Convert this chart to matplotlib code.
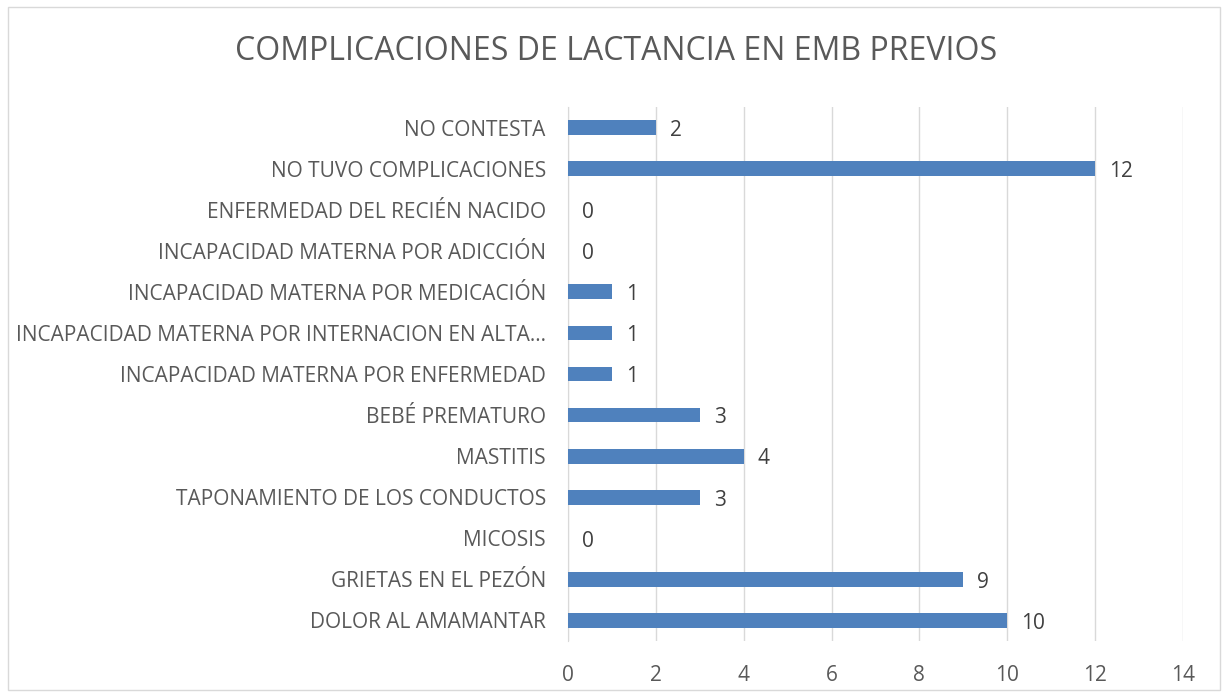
import matplotlib
matplotlib.use("Agg")
import matplotlib.pyplot as plt
from matplotlib.patches import Rectangle

categories = [
    "NO CONTESTA",
    "NO TUVO COMPLICACIONES",
    "ENFERMEDAD DEL RECIÉN NACIDO",
    "INCAPACIDAD MATERNA POR ADICCIÓN",
    "INCAPACIDAD MATERNA POR MEDICACIÓN",
    "INCAPACIDAD MATERNA POR INTERNACION EN ALTA…",
    "INCAPACIDAD MATERNA POR ENFERMEDAD",
    "BEBÉ PREMATURO",
    "MASTITIS",
    "TAPONAMIENTO DE LOS CONDUCTOS",
    "MICOSIS",
    "GRIETAS EN EL PEZÓN",
    "DOLOR AL AMAMANTAR",
]
values = [2, 12, 0, 0, 1, 1, 1, 3, 4, 3, 0, 9, 10]
xticks = [0, 2, 4, 6, 8, 10, 12, 14]

plt.rcParams['font.family'] = ['Open Sans', 'DejaVu Sans']
txt = '#595959'
fig = plt.figure(figsize=(12.27, 6.97), dpi=100)
fig.patches.append(Rectangle((8/1227, 7/697), 1212/1227, 683/697, transform=fig.transFigure,
                             fill=False, edgecolor='#D9D9D9', linewidth=1.0))
ax = fig.add_axes([568/1227, 1 - 641/697, (1183 - 568)/1227, (641 - 107)/697])
y = list(range(len(categories)))
ax.barh(y, values, height=0.36, color='#4F81BD', zorder=3)
for yi, v in zip(y, values):
    ax.annotate(str(v), (v, yi), xytext=(10, -2), textcoords='offset points',
                va='center', ha='left', fontsize=15, color='#404040')
ax.set_ylim(len(categories) - 0.5, -0.5)
ax.set_xlim(0, 14)
ax.set_xticks(xticks)
ax.set_yticks(y)
ax.set_yticklabels(categories)
ax.tick_params(axis='y', length=0, pad=16, labelsize=15, labelcolor=txt)
ax.tick_params(axis='x', length=0, pad=17, labelsize=15, labelcolor=txt)
ax.grid(axis='x', color='#D9D9D9', linewidth=1.0, zorder=0)
for s in ['top', 'right', 'bottom']:
    ax.spines[s].set_visible(False)
ax.spines['left'].set_color('#D9D9D9')
fig.text(616/1227, 1 - 51/697, "COMPLICACIONES DE LACTANCIA EN EMB PREVIOS",
         ha='center', va='center', fontsize=23, color=txt)
fig.savefig("out.png", dpi=100)
